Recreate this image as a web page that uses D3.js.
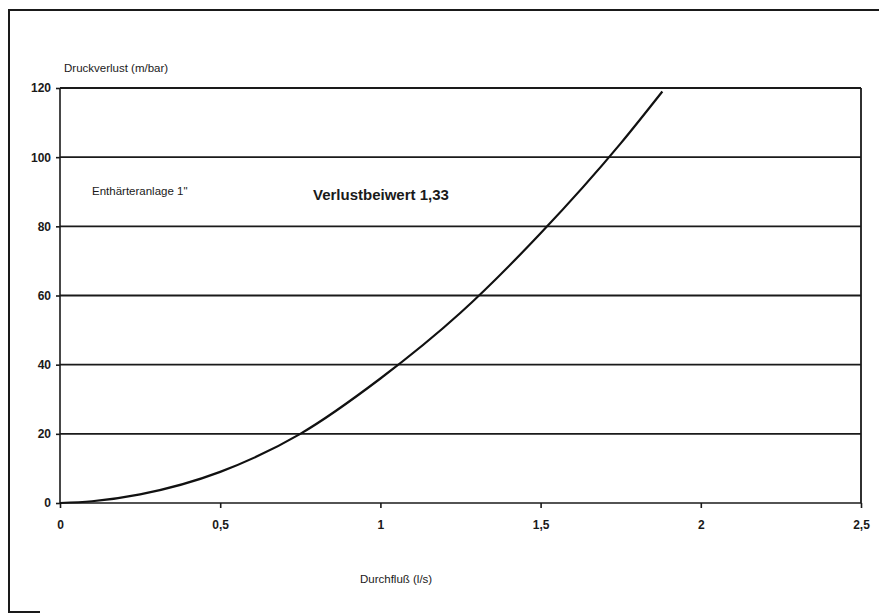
<!DOCTYPE html>
<html>
<head>
<meta charset="utf-8">
<script src="https://cdn.jsdelivr.net/npm/d3@7"></script>
<style>
    body { margin: 0; background: #fff; }
    svg { display: block; font-family: "Liberation Sans", Arial, sans-serif; }
    .axis path, .axis line { stroke: #1a1a1a; stroke-width: 1.6; }
    .axis text { fill: #1a1a1a; font-size: 12px; font-weight: bold; }
</style>
</head>
<body>
<div id="chart"></div>
<script>
// Durchfluss (l/s) and Druckverlust (mbar)
let flow = [0, 0.1, 0.25, 0.5, 0.75, 1, 1.25, 1.5, 1.75, 1.88];
let loss = [0, 0.5, 2.5, 9, 20, 36, 55, 78, 104, 119];
let xTicks = [0, 0.5, 1, 1.5, 2, 2.5];
let yTicks = [0, 20, 40, 60, 80, 100, 120];

let width = 879, height = 614;
let margin = {left: 60, right: 18, top: 88, bottom: 111};
let innerW = width - margin.left - margin.right;
let innerH = height - margin.top - margin.bottom;

let svg = d3.select("#chart").append("svg")
    .attr("width", width)
    .attr("height", height);

// scanned page frame
svg.append("path")
    .attr("d", "M879,10 L9,10 L9,612 L40,612")
    .attr("fill", "none")
    .attr("stroke", "#1a1a1a")
    .attr("stroke-width", 2);

let g = svg.append("g")
    .attr("transform", "translate(" + margin.left + "," + margin.top + ")");

let xScale = d3.scaleLinear().domain([0, 2.5]).range([0, innerW]);
let yScale = d3.scaleLinear().domain([0, 120]).range([innerH, 0]);

let comma = function(d){ return String(d).replace(".", ","); };

// horizontal grid
g.selectAll(".grid")
    .data(yTicks.filter(function(d){ return d > 0; }))
    .enter().append("line")
    .attr("class", "grid")
    .attr("x1", 0)
    .attr("x2", innerW)
    .attr("y1", function(d){ return yScale(d); })
    .attr("y2", function(d){ return yScale(d); })
    .attr("stroke", "#1a1a1a")
    .attr("stroke-width", 1.8);

// right border
g.append("line")
    .attr("x1", innerW).attr("x2", innerW)
    .attr("y1", 0).attr("y2", innerH)
    .attr("stroke", "#1a1a1a")
    .attr("stroke-width", 1.8);

g.append("g")
    .attr("class", "axis")
    .call(d3.axisLeft(yScale).tickValues(yTicks).tickSize(4).tickPadding(5).tickFormat(comma))
    .call(function(a){ a.select(".domain").attr("d", "M0," + innerH + "V0"); });

g.append("g")
    .attr("class", "axis")
    .attr("transform", "translate(0," + innerH + ")")
    .call(d3.axisBottom(xScale).tickValues(xTicks).tickSize(5).tickPadding(12).tickFormat(comma))
    .call(function(a){ a.select(".domain").attr("d", "M0,0H" + innerW); });

let points = flow.map(function(q, i){ return [q, loss[i]]; });

g.append("path")
    .datum(points)
    .attr("fill", "none")
    .attr("stroke", "#111")
    .attr("stroke-width", 2.2)
    .attr("d", d3.line()
        .x(function(d){ return xScale(d[0]); })
        .y(function(d){ return yScale(d[1]); })
        .curve(d3.curveMonotoneX));

svg.append("text")
    .attr("x", 64).attr("y", 72)
    .attr("font-size", 11.5)
    .attr("fill", "#1a1a1a")
    .text("Druckverlust (m/bar)");

svg.append("text")
    .attr("x", 92).attr("y", 195)
    .attr("font-size", 11.5)
    .attr("fill", "#1a1a1a")
    .text("Enthärteranlage 1\"");

svg.append("text")
    .attr("x", 313).attr("y", 200)
    .attr("font-size", 15)
    .attr("font-weight", "bold")
    .attr("fill", "#1a1a1a")
    .text("Verlustbeiwert 1,33");

svg.append("text")
    .attr("x", 360).attr("y", 583)
    .attr("font-size", 11.5)
    .attr("fill", "#1a1a1a")
    .text("Durchfluß (l/s)");
</script>
</body>
</html>
